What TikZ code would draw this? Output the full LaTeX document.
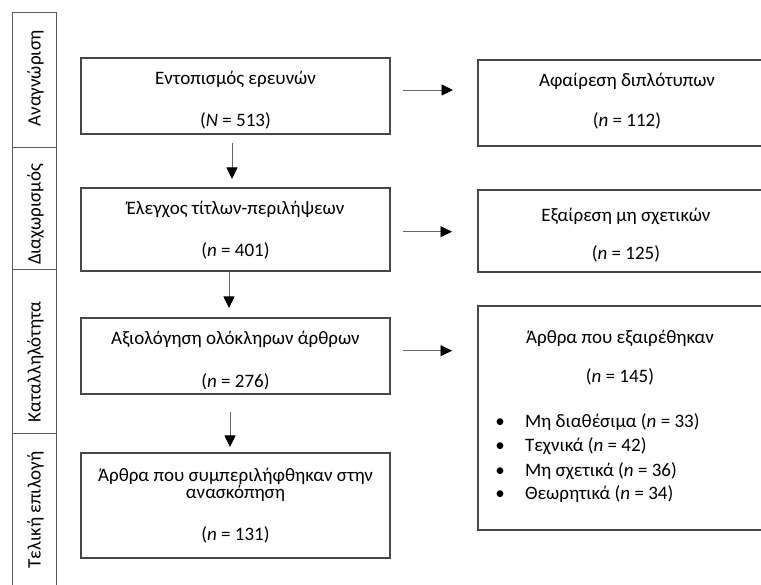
\documentclass[tikz,border=0pt]{standalone}
\usepackage{fontspec}
\setmainfont{Carlito}
\usetikzlibrary{arrows.meta}

\tikzset{
  box/.style={draw=black!72, line width=1.2pt, inner sep=0pt, outer sep=0pt, fill=none},
  cell/.style={draw=black!65, line width=1pt, inner sep=0pt, outer sep=0pt},
  txt/.style={inner sep=0pt, outer sep=0pt, anchor=base, font=\fontsize{19}{22}\selectfont},
  ltxt/.style={txt, anchor=base west},
  stage/.style={txt, rotate=90},
  flow/.style={draw=black!60, line width=0.8pt, -{Triangle[length=11.5pt,width=11pt,fill=black,color=black]}},
}

\begin{document}
\begin{tikzpicture}[x=1pt, y=-1pt]
  \clip (0,0) rectangle (761,585);
  \fill[white] (0,0) rectangle (761,585);

  % stage column on the left
  \node[cell, minimum width=44pt, minimum height=135pt] (s1) at (34,80.5) {};
  \node[cell, minimum width=44pt, minimum height=122pt] (s2) at (34,209) {};
  \node[cell, minimum width=44pt, minimum height=164pt] (s3) at (34,352) {};
  \node[cell, minimum width=44pt, minimum height=166pt] (s4) at (34,517) {};
  \node[stage] (l1) at (40.5,78.5) {Αναγνώριση};
  \node[stage] (l2) at (40.5,214.5) {Διαχωρισμός};
  \node[stage] (l3) at (40.5,362) {Καταλληλότητα};
  \node[stage] (l4) at (40.5,510) {Τελική επιλογή};

  % main flow boxes
  \node[box, minimum width=309pt, minimum height=76pt]  (b1) at (235.5,96) {};
  \node[box, minimum width=309pt, minimum height=83pt]  (b2) at (235.5,229.5) {};
  \node[box, minimum width=309pt, minimum height=76pt]  (b3) at (235.5,356) {};
  \node[box, minimum width=309pt, minimum height=105pt] (b4) at (235.5,505.5) {};

  \node[txt] (t1a) at (235.5,85) {Εντοπισμός ερευνών};
  \node[txt] (t1b) at (235.5,126.5) {(\textit{N} = 513)};
  \node[txt] (t2a) at (235.5,215) {Έλεγχος τίτλων-περιλήψεων};
  \node[txt] (t2b) at (235.5,257) {(\textit{n} = 401)};
  \node[txt] (t3a) at (235.5,345) {Αξιολόγηση ολόκληρων άρθρων};
  % the count line is cut off just under its baseline by the text frame
  \begin{scope}
    \clip ([yshift=-0.5pt]b3.north west) rectangle ([yshift=5.5pt]b3.south east);
    \node[txt] (t3b) at (235.5,387.5) {(\textit{n} = 276)};
  \end{scope}
  \node[txt] (t4a) at (235.5,481) {Άρθρα που συμπεριλήφθηκαν στην};
  \node[txt] (t4b) at (235.5,498.5) {ανασκόπηση};
  \node[txt] (t4c) at (235.5,540) {(\textit{n} = 131)};

  % boxes on the right
  \node[box, minimum width=298pt, minimum height=86pt]  (r1) at (627,103) {};
  \node[box, minimum width=298pt, minimum height=82pt]  (r2) at (627,231) {};
  \node[box, minimum width=298pt, minimum height=224pt] (r3) at (627,418) {};

  \node[txt] (u1a) at (627,86.5) {Αφαίρεση διπλότυπων};
  \node[txt] (u1b) at (627,127) {(\textit{n} = 112)};
  \node[txt] (u2a) at (626,221.5) {Εξαίρεση μη σχετικών};
  \node[txt] (u2b) at (626,260) {(\textit{n} = 125)};
  \node[txt] (u3a) at (620,344) {Άρθρα που εξαιρέθηκαν};
  \node[txt] (u3b) at (620,383) {(\textit{n} = 145)};

  \node[txt] (k1) at (500,428) {•};
  \node[txt] (k2) at (500,452) {•};
  \node[txt] (k3) at (500,476.5) {•};
  \node[txt] (k4) at (500,500) {•};
  \node[ltxt] (v1) at (525,428) {Μη διαθέσιμα (\textit{n} = 33)};
  \node[ltxt] (v2) at (525,452) {Τεχνικά (\textit{n} = 42)};
  \node[ltxt] (v3) at (525,476.5) {Μη σχετικά (\textit{n} = 36)};
  \node[ltxt] (v4) at (525,500) {Θεωρητικά (\textit{n} = 34)};

  % connectors
  \draw[flow, shorten <=9pt, shorten >=9pt] ([xshift=-3.5pt]b1.south) -- ([xshift=-3.5pt]b2.north);
  \draw[flow, shorten <=1pt, shorten >=10pt] ([xshift=-6.5pt]b2.south) -- ([xshift=-6.5pt]b3.north);
  \draw[flow, shorten <=18pt, shorten >=6pt] ([xshift=-5.5pt]b3.south) -- ([xshift=-5.5pt]b4.north);

  \draw[flow, shorten <=12.7pt, shorten >=25pt] ([yshift=6pt]b1.east) -- ([yshift=6pt]b1.east -| r1.west);
  \draw[flow, shorten <=12.7pt, shorten >=26pt] ([yshift=-2.2pt]b2.east) -- ([yshift=-2.2pt]b2.east -| r2.west);
  \draw[flow, shorten <=12.7pt, shorten >=26pt] ([yshift=5.3pt]b3.east) -- ([yshift=5.3pt]b3.east -| r3.west);
\end{tikzpicture}
\end{document}
